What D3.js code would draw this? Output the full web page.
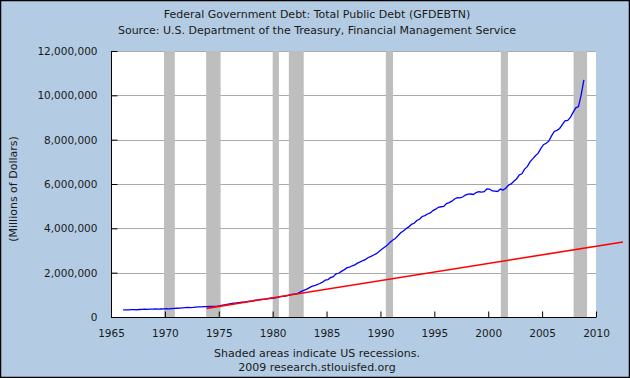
<!DOCTYPE html>
<html>
<head>
<meta charset="utf-8">
<script src="https://cdn.jsdelivr.net/npm/d3@7"></script>
<style>
  html, body { margin: 0; padding: 0; background: #B3CCE3; }
  svg { display: block; }
  text { font-family: "DejaVu Sans", Verdana, sans-serif; fill: #1a1a1a; }
</style>
</head>
<body>
<svg id="chart" width="630" height="378"></svg>
<script>
// ---- Data ----
const titleLines = [
  "Federal Government Debt: Total Public Debt (GFDEBTN)",
  "Source: U.S. Department of the Treasury, Financial Management Service"
];
const footerLines = [
  "Shaded areas indicate US recessions.",
  "2009 research.stlouisfed.org"
];
const yAxisTitle = "(Millions of Dollars)";

const years = d3.range(1966, 2009); // 1966..2008, four quarters each
// Quarterly total public debt, billions of dollars (Q1..Q4 of each year)
const debtBillions = [
  [321, 320, 325, 329],   // 1966
  [330, 326, 338, 344],   // 1967
  [350, 348, 356, 358],   // 1968
  [362, 353, 362, 366],   // 1969
  [372, 371, 381, 389],   // 1970
  [394, 400, 412, 424],   // 1971
  [428, 427, 436, 449],   // 1972
  [457, 458, 466, 469],   // 1973
  [476, 475, 482, 492],   // 1974
  [509, 533, 553, 576],   // 1975
  [599, 620, 635, 653],   // 1976
  [665, 675, 698, 718],   // 1977
  [731, 756, 771, 789],   // 1978
  [796, 805, 826, 846],   // 1979
  [858, 877, 908, 930],   // 1980
  [943, 963, 998, 1028],  // 1981
  [1034, 1076, 1142, 1197], // 1982
  [1244, 1311, 1377, 1410], // 1983
  [1463, 1512, 1572, 1663], // 1984
  [1687, 1775, 1823, 1945], // 1985
  [1973, 2059, 2125, 2214], // 1986
  [2246, 2310, 2350, 2431], // 1987
  [2487, 2547, 2602, 2684], // 1988
  [2734, 2799, 2857, 2953], // 1989
  [3052, 3143, 3233, 3364], // 1990
  [3465, 3538, 3665, 3801], // 1991
  [3881, 3984, 4065, 4177], // 1992
  [4230, 4352, 4411, 4535], // 1993
  [4575, 4646, 4693, 4800], // 1994
  [4864, 4951, 4974, 4988], // 1995
  [5117, 5161, 5225, 5323], // 1996
  [5380, 5376, 5413, 5502], // 1997
  [5542, 5548, 5526, 5614], // 1998
  [5651, 5638, 5656, 5776], // 1999
  [5773, 5686, 5674, 5662], // 2000
  [5773, 5727, 5807, 5943], // 2001
  [6006, 6126, 6228, 6405], // 2002
  [6460, 6670, 6783, 6998], // 2003
  [7131, 7274, 7379, 7596], // 2004
  [7776, 7836, 7933, 8170], // 2005
  [8371, 8420, 8507, 8680], // 2006
  [8849, 8867, 9008, 9229], // 2007
  [9437, 9492, 10025, 10700] // 2008
];

// Red reference line: [year, millions of dollars]
const trendYears = [1973.875, 2012.5];
const trendValues = [390000, 3385000];

// NBER recessions [start, end] in fractional years
const recessions = [
  [1969.92, 1970.92],
  [1973.83, 1975.17],
  [1980.0, 1980.58],
  [1981.5, 1982.88],
  [1990.5, 1991.17],
  [2001.17, 2001.83],
  [2007.92, 2009.17]
];

const xTicks = d3.range(1965, 2011, 5);
const yTicks = d3.range(0, 12000001, 2000000);

// ---- Build series ----
const debt = [];
years.forEach((yr, i) => {
  debtBillions[i].forEach((v, q) => {
    debt.push({ t: yr + q * 0.25 + 0.125, v: v * 1000 });
  });
});
const trend = trendYears.map((t, i) => ({ t, v: trendValues[i] }));

// ---- Layout ----
const svg = d3.select("#chart");
const W = 630, H = 378;
const L = 111, R = 596, T = 51, B = 317;

const x = d3.scaleLinear().domain([1965, 2010]).range([L, R]);
const y = d3.scaleLinear().domain([0, 12000000]).range([B, T]);

svg.append("rect").attr("x", 0).attr("y", 0).attr("width", W).attr("height", H).attr("fill", "#B3CCE3");

// plot background
svg.append("rect").attr("x", L).attr("y", T).attr("width", R - L).attr("height", B - T).attr("fill", "#ffffff");

// gridlines
svg.append("g").selectAll("line").data(yTicks.filter(d => d > 0)).join("line")
  .attr("x1", L).attr("x2", R)
  .attr("y1", d => Math.round(y(d)) + 0.5).attr("y2", d => Math.round(y(d)) + 0.5)
  .attr("stroke", "#AAAAAA").attr("stroke-width", 1);

// recession bands
svg.append("g").selectAll("rect").data(recessions).join("rect")
  .attr("x", d => x(d[0]))
  .attr("width", d => x(d[1]) - x(d[0]))
  .attr("y", T).attr("height", B - T)
  .attr("fill", "#BEBEBE");

// axes
const yAxis = d3.axisLeft(y).tickValues(yTicks).tickSize(-6).tickPadding(14).tickFormat(d3.format(","));
const gy = svg.append("g").attr("transform", `translate(${L + 0.5},0)`).call(yAxis);
gy.select(".domain").attr("stroke", "#000").attr("d", `M0,${T}V${B}`);
gy.selectAll(".tick line").attr("stroke", "#000");
gy.selectAll(".tick text").attr("font-size", "10.5px").attr("fill", "#111")
  .style("font-family", '"DejaVu Sans", Verdana, sans-serif');

const xAxis = d3.axisBottom(x).tickValues(xTicks).tickSize(-6).tickPadding(12).tickFormat(d3.format("d"));
const gx = svg.append("g").attr("transform", `translate(0,${B + 0.5})`).call(xAxis);
gx.select(".domain").attr("stroke", "#000").attr("d", `M${L},0H${R}`);
gx.selectAll(".tick line").attr("stroke", "#000");
gx.selectAll(".tick text").attr("font-size", "10.5px").attr("fill", "#111")
  .style("font-family", '"DejaVu Sans", Verdana, sans-serif');

// lines
const line = d3.line().x(d => x(d.t)).y(d => y(d.v));
svg.append("path").datum(debt).attr("d", line)
  .attr("fill", "none").attr("stroke", "#0000FF").attr("stroke-width", 1.3);
svg.append("path").datum(trend).attr("d", line)
  .attr("fill", "none").attr("stroke", "#FF0000").attr("stroke-width", 1.6);

// titles
svg.append("g").selectAll("text").data(titleLines).join("text")
  .attr("x", 317).attr("y", (d, i) => 18 + i * 16)
  .attr("text-anchor", "middle").attr("font-size", "11px").attr("fill", "#222")
  .text(d => d);

svg.append("g").selectAll("text").data(footerLines).join("text")
  .attr("x", 317).attr("y", (d, i) => 357 + i * 14)
  .attr("text-anchor", "middle").attr("font-size", "11px").attr("fill", "#222")
  .text(d => d);

svg.append("text")
  .attr("transform", "translate(13.5,189) rotate(-90)")
  .attr("text-anchor", "middle").attr("dominant-baseline", "central")
  .attr("font-size", "11px").attr("fill", "#222")
  .text(yAxisTitle);

// outer border
svg.append("rect").attr("x", 0.5).attr("y", 0.5).attr("width", W - 1).attr("height", H - 1)
  .attr("fill", "none").attr("stroke", "#000").attr("stroke-width", 1.5);
</script>
</body>
</html>
